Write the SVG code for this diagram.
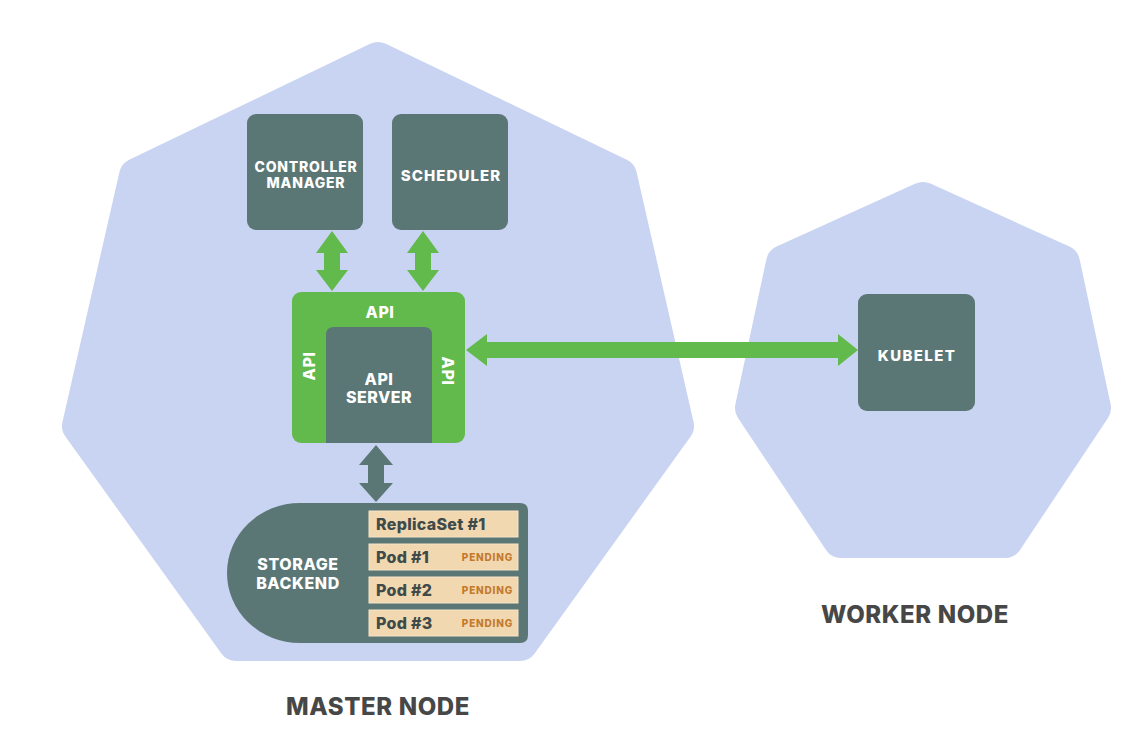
<svg xmlns="http://www.w3.org/2000/svg" width="1125" height="729" viewBox="0 0 1125 729">
<style>
.hept{fill:#c8d4f2;stroke:#c8d4f2;stroke-width:36;stroke-linejoin:round}
.box{fill:#5b7775}
.wt{fill:#ffffff;font-family:Inter,"Liberation Sans",sans-serif;font-weight:800;text-anchor:middle}
.lbl{fill:#474747;font-family:Inter,"Liberation Sans",sans-serif;font-weight:800;font-size:24px;letter-spacing:0.6px;text-anchor:middle}
.row{fill:#f2d8b0;stroke:#f7e4c6;stroke-width:1}
.rt{fill:#3f4b4a;font-family:Inter,"Liberation Sans",sans-serif;font-weight:800;font-size:16px;letter-spacing:0.3px}
.pend{fill:#c47a2c;font-family:Inter,"Liberation Sans",sans-serif;font-weight:800;font-size:10px;letter-spacing:0.8px;text-anchor:end}
.garrow{fill:#62b94c}
.darrow{fill:#5b7775}
</style>
<rect width="1125" height="729" fill="#ffffff"/>
<g id="master-node">
<polygon class="hept" points="378,60 137,176 80,426 236,643 520,643 676,426 619,176"/>
<text class="lbl" x="378" y="715">MASTER NODE</text>
</g>
<g id="worker-node">
<polygon class="hept" points="923,200 784,263 753,408 841,540 1005,540 1093,408 1062,263"/>
<text class="lbl" x="915" y="623">WORKER NODE</text>
</g>
<g id="controller-manager">
<rect class="box" x="247" y="114" width="116" height="116" rx="9"/>
<text class="wt" font-size="14" letter-spacing="0.8" x="306" y="172">CONTROLLER</text>
<text class="wt" font-size="14" letter-spacing="0.8" x="306" y="188">MANAGER</text>
</g>
<g id="scheduler">
<rect class="box" x="392" y="114" width="116" height="116" rx="9"/>
<text class="wt" font-size="15" letter-spacing="1.1" x="451" y="181">SCHEDULER</text>
</g>
<g id="api-server">
<rect x="292" y="292" width="173" height="151" rx="9" fill="#62b94c"/>
<path class="box" d="M326,443 V335 Q326,327 334,327 H424 Q432,327 432,335 V443 Z"/>
<text class="wt" font-size="16" letter-spacing="0.5" x="380" y="318">API</text>
<text class="wt" font-size="16" letter-spacing="0.5" transform="translate(315,366) rotate(-90)">API</text>
<text class="wt" font-size="16" letter-spacing="0.5" transform="translate(442,371) rotate(90)">API</text>
<text class="wt" font-size="16" letter-spacing="0.5" x="379" y="385">API</text>
<text class="wt" font-size="16" letter-spacing="0.5" x="379" y="403">SERVER</text>
</g>
<g id="kubelet">
<rect class="box" x="858" y="294" width="117" height="117" rx="9"/>
<text class="wt" font-size="15" letter-spacing="1.4" x="917" y="361">KUBELET</text>
</g>
<g id="storage-backend">
<path class="box" d="M300,503 H520 Q528,503 528,511 V635 Q528,643 520,643 H300 A73,70 0 0 1 300,503 Z"/>
<text class="wt" font-size="16" letter-spacing="0.6" x="298" y="570">STORAGE</text>
<text class="wt" font-size="16" letter-spacing="0.6" x="298" y="589">BACKEND</text>
<rect class="row" x="369" y="511" width="149" height="26"/>
<text class="rt" x="376" y="530">ReplicaSet #1</text>
<rect class="row" x="369" y="544" width="149" height="26"/>
<text class="rt" x="376" y="563">Pod #1</text>
<text class="pend" x="513" y="561">PENDING</text>
<rect class="row" x="369" y="577" width="149" height="26"/>
<text class="rt" x="376" y="596">Pod #2</text>
<text class="pend" x="513" y="594">PENDING</text>
<rect class="row" x="369" y="610" width="149" height="26"/>
<text class="rt" x="376" y="629">Pod #3</text>
<text class="pend" x="513" y="627">PENDING</text>
</g>
<g id="connectors">
<polygon class="garrow" points="332,231 348,253 340,253 340,270 348,270 332,291 316,270 324,270 324,253 316,253"/>
<polygon class="garrow" points="423,231 439,253 431,253 431,270 439,270 423,291 407,270 415,270 415,253 407,253"/>
<polygon class="garrow" points="466,350 487,334 487,342 838,342 838,334 858,350 838,366 838,358 487,358 487,366"/>
<polygon class="darrow" points="376,445 393,465 384,465 384,483 393,483 376,502 359,483 368,483 368,465 359,465"/>
</g>
</svg>
